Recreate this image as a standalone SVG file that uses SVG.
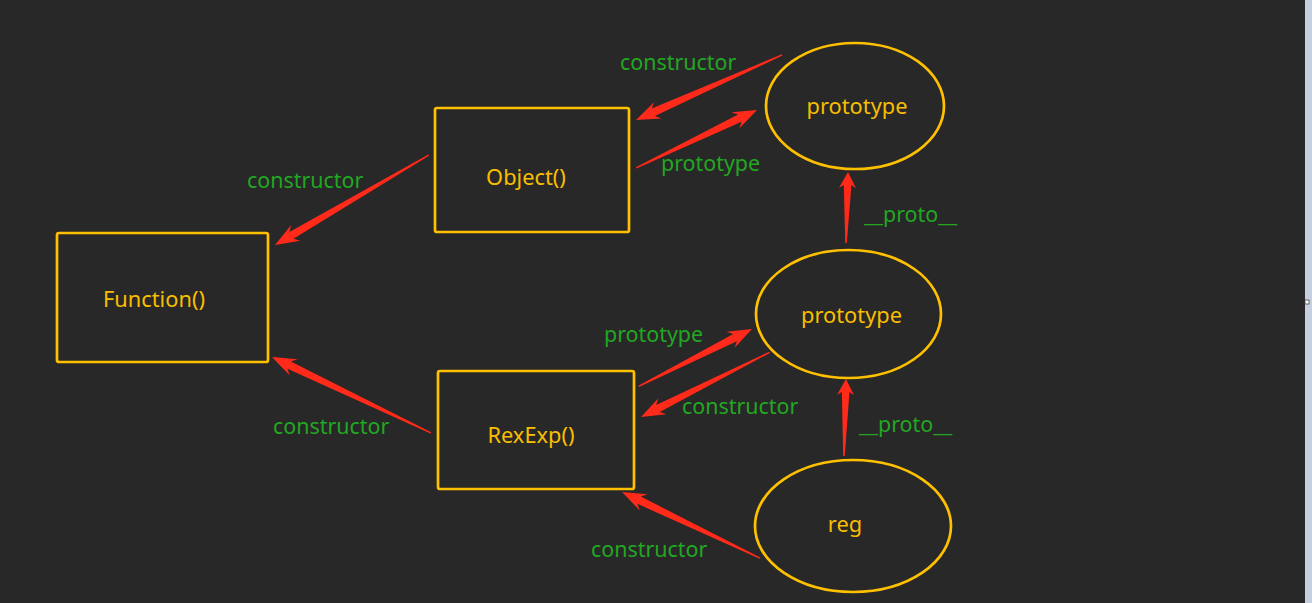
<svg xmlns="http://www.w3.org/2000/svg" width="1312" height="603" viewBox="0 0 1312 603">
<style>
.box{fill:none;stroke:#ffc000;stroke-width:2.7}
.nt{font-family:"Noto Sans","Open Sans",sans-serif;font-size:21.8px;fill:#f8be00;text-anchor:middle}
.lb{font-family:"Noto Sans","Open Sans",sans-serif;font-size:21.4px;fill:#22a722}
.ar{fill:#ff2a1a}
</style>
<rect x="0" y="0" width="1312" height="603" fill="#282828"/>
<rect x="1305" y="0" width="7" height="603" fill="#c6cee0"/>
<rect x="1305" y="300" width="4" height="4" fill="#ffffff" stroke="#444" stroke-width="0.8"/>
<g id="connectors">
<polygon class="ar" transform="translate(757,110) rotate(-25.6)" points="0,0 -24,-9 -19,-4 -134,-0.7 -134,0.7 -19,4 -24,9"/>
<polygon class="ar" transform="translate(636,120) rotate(156)" points="0,0 -24,-9 -19,-4 -160,-0.7 -160,0.7 -19,4 -24,9"/>
<polygon class="ar" transform="translate(275,245) rotate(149.7)" points="0,0 -24,-9 -19,-4 -178,-0.7 -178,0.7 -19,4 -24,9"/>
<polygon class="ar" transform="translate(272,357) rotate(-154.5)" points="0,0 -24,-9 -19,-4 -176,-0.7 -176,0.7 -19,4 -24,9"/>
<polygon class="ar" transform="translate(752,329) rotate(-26.8)" points="0,0 -24,-9 -19,-4 -127,-0.7 -127,0.7 -19,4 -24,9"/>
<polygon class="ar" transform="translate(641,417) rotate(153.3)" points="0,0 -24,-9 -19,-4 -144,-0.7 -144,0.7 -19,4 -24,9"/>
<polygon class="ar" transform="translate(622,492) rotate(-154.4)" points="0,0 -24,-9 -19,-4 -153,-0.7 -153,0.7 -19,4 -24,9"/>
<polygon class="ar" transform="translate(846,379) rotate(-88.5)" points="0,0 -16,-8.5 -13,-3.8 -77,-0.8 -77,0.8 -13,3.8 -16,8.5"/>
<polygon class="ar" transform="translate(848,172) rotate(-88.4)" points="0,0 -16,-8.5 -13,-3.8 -71,-0.8 -71,0.8 -13,3.8 -16,8.5"/>
<text class="lb" x="620" y="70">constructor</text>
<text class="lb" x="661" y="171">prototype</text>
<text class="lb" x="247" y="188">constructor</text>
<text class="lb" x="864" y="222">__proto__</text>
<text class="lb" x="604" y="342">prototype</text>
<text class="lb" x="682" y="414">constructor</text>
<text class="lb" x="859" y="432">__proto__</text>
<text class="lb" x="273" y="434">constructor</text>
<text class="lb" x="591" y="557">constructor</text>
</g>
<g id="function">
<rect class="box" x="57" y="233" width="211" height="129" rx="2"/>
<text class="nt" x="154" y="307">Function()</text>
</g>
<g id="object">
<rect class="box" x="435" y="108" width="194" height="124" rx="2"/>
<text class="nt" x="526" y="185">Object()</text>
</g>
<g id="rexexp">
<rect class="box" x="438" y="371" width="196" height="118" rx="2"/>
<text class="nt" x="531" y="443">RexExp()</text>
</g>
<g id="object-prototype">
<ellipse class="box" cx="855" cy="106" rx="89" ry="63"/>
<text class="nt" x="857" y="114">prototype</text>
</g>
<g id="rexexp-prototype">
<ellipse class="box" cx="848.5" cy="314" rx="92.5" ry="64"/>
<text class="nt" x="851.5" y="323">prototype</text>
</g>
<g id="reg">
<ellipse class="box" cx="853" cy="526" rx="98" ry="66"/>
<text class="nt" x="845" y="532">reg</text>
</g>
</svg>
